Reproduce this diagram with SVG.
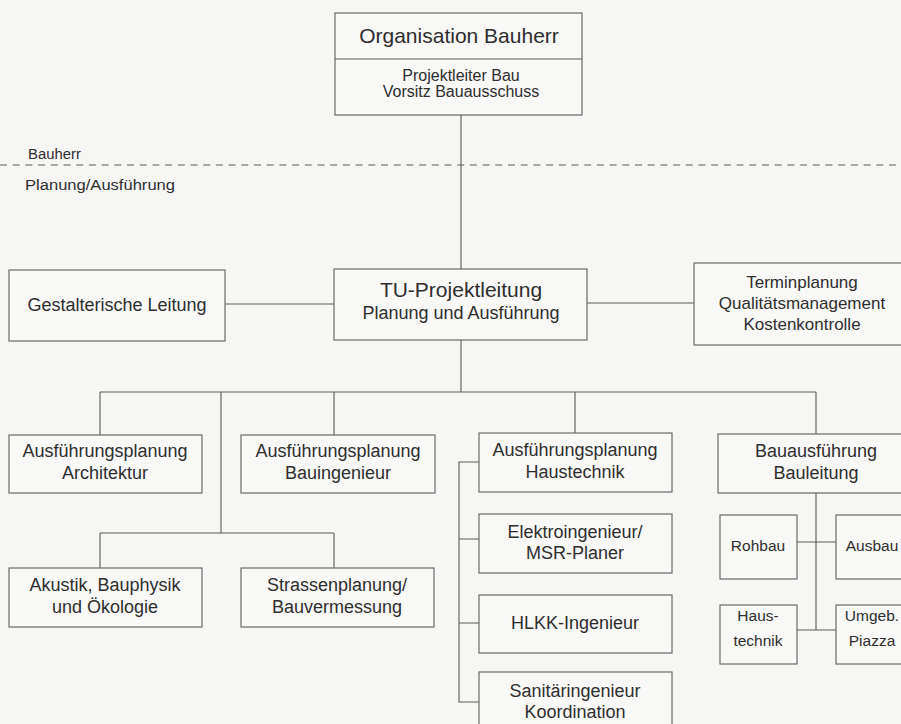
<svg xmlns="http://www.w3.org/2000/svg" width="901" height="724" viewBox="0 0 901 724">
<style>
.bg{fill:#f6f6f4}
.box{fill:#f8f8f6;stroke:#6a6a6a;stroke-width:1.2}
.ln{fill:none;stroke:#5a5a5a;stroke-width:1.1}
.dash{fill:none;stroke:#5a5a5a;stroke-width:1.2;stroke-dasharray:7 5.7}
text{font-family:"Liberation Sans",Arial,sans-serif;fill:#2e2e2e;text-anchor:middle}
.t21{font-size:21px}
.t18{font-size:18px}
.t17{font-size:17px}
.t16{font-size:16px}
.t15{font-size:15.5px}
.lbl{font-size:15.5px;text-anchor:start}
</style>
<rect class="bg" x="0" y="0" width="901" height="724"/>
<g id="connectors">
<line class="dash" x1="0" y1="165" x2="901" y2="165"/>
<path class="ln" d="M461 115V269"/>
<path class="ln" d="M225 304H334"/>
<path class="ln" d="M587 303H694"/>
<path class="ln" d="M461 340V392"/>
<path class="ln" d="M100 392H816"/>
<path class="ln" d="M100 392V435M221 392V533M334 392V435M575 392V433M816 392V434"/>
<path class="ln" d="M100 533H334M100 533V568M334 533V568"/>
<path class="ln" d="M479 462H459V702H479M459 539H479M459 623H479"/>
<path class="ln" d="M816 493V630M797 542H836M797 630H836"/>
</g>
<g id="bauherr-label"><text class="lbl" x="28" y="159" textLength="53" lengthAdjust="spacingAndGlyphs">Bauherr</text></g>
<g id="planung-label"><text class="lbl" x="25" y="190" textLength="150" lengthAdjust="spacingAndGlyphs">Planung/Ausführung</text></g>
<g id="organisation">
<rect class="box" x="335" y="13" width="247" height="102"/>
<line class="ln" x1="335" y1="59" x2="582" y2="59"/>
<text class="t21" x="459" y="43">Organisation Bauherr</text>
<text class="t16" x="461" y="81">Projektleiter Bau</text>
<text class="t16" x="461" y="97">Vorsitz Bauausschuss</text>
</g>
<g id="gestalterisch">
<rect class="box" x="9" y="270" width="216" height="71"/>
<text class="t18" x="117" y="311">Gestalterische Leitung</text>
</g>
<g id="tu">
<rect class="box" x="334" y="269" width="253" height="71"/>
<text class="t21" x="461" y="297">TU-Projektleitung</text>
<text class="t18" x="461" y="319">Planung und Ausführung</text>
</g>
<g id="termin">
<rect class="box" x="694" y="263" width="220" height="82"/>
<text class="t17" x="802" y="288">Terminplanung</text>
<text class="t17" x="802" y="309">Qualitätsmanagement</text>
<text class="t17" x="802" y="330">Kostenkontrolle</text>
</g>
<g id="architektur">
<rect class="box" x="9" y="435" width="193" height="58"/>
<text class="t18" x="105" y="457">Ausführungsplanung</text>
<text class="t18" x="105" y="479">Architektur</text>
</g>
<g id="bauingenieur">
<rect class="box" x="241" y="435" width="194" height="58"/>
<text class="t18" x="338" y="457">Ausführungsplanung</text>
<text class="t18" x="338" y="479">Bauingenieur</text>
</g>
<g id="haustechnik">
<rect class="box" x="479" y="433" width="193" height="59"/>
<text class="t18" x="575" y="456">Ausführungsplanung</text>
<text class="t18" x="575" y="478">Haustechnik</text>
</g>
<g id="bauausfuehrung">
<rect class="box" x="718" y="434" width="196" height="59"/>
<text class="t18" x="816" y="457">Bauausführung</text>
<text class="t18" x="816" y="479">Bauleitung</text>
</g>
<g id="akustik">
<rect class="box" x="9" y="568" width="193" height="59"/>
<text class="t18" x="105" y="591">Akustik, Bauphysik</text>
<text class="t18" x="105" y="613">und Ökologie</text>
</g>
<g id="strassen">
<rect class="box" x="241" y="568" width="193" height="59"/>
<text class="t18" x="337" y="591">Strassenplanung/</text>
<text class="t18" x="337" y="613">Bauvermessung</text>
</g>
<g id="elektro">
<rect class="box" x="479" y="514" width="193" height="59"/>
<text class="t18" x="575" y="538">Elektroingenieur/</text>
<text class="t18" x="575" y="559">MSR-Planer</text>
</g>
<g id="hlkk">
<rect class="box" x="479" y="595" width="193" height="58"/>
<text class="t18" x="575" y="629">HLKK-Ingenieur</text>
</g>
<g id="sanitaer">
<rect class="box" x="479" y="672" width="193" height="60"/>
<text class="t18" x="575" y="697">Sanitäringenieur</text>
<text class="t18" x="575" y="718">Koordination</text>
</g>
<g id="rohbau">
<rect class="box" x="720" y="515" width="77" height="64"/>
<text class="t15" x="758" y="551">Rohbau</text>
</g>
<g id="ausbau">
<rect class="box" x="836" y="515" width="78" height="64"/>
<text class="t15" x="872" y="551">Ausbau</text>
</g>
<g id="haus-technik">
<rect class="box" x="720" y="605" width="77" height="59"/>
<text class="t15" x="758" y="621">Haus-</text>
<text class="t15" x="758" y="646">technik</text>
</g>
<g id="umgebung">
<rect class="box" x="836" y="605" width="78" height="59"/>
<text class="t15" x="872" y="621">Umgeb.</text>
<text class="t15" x="872" y="646">Piazza</text>
</g>
</svg>
